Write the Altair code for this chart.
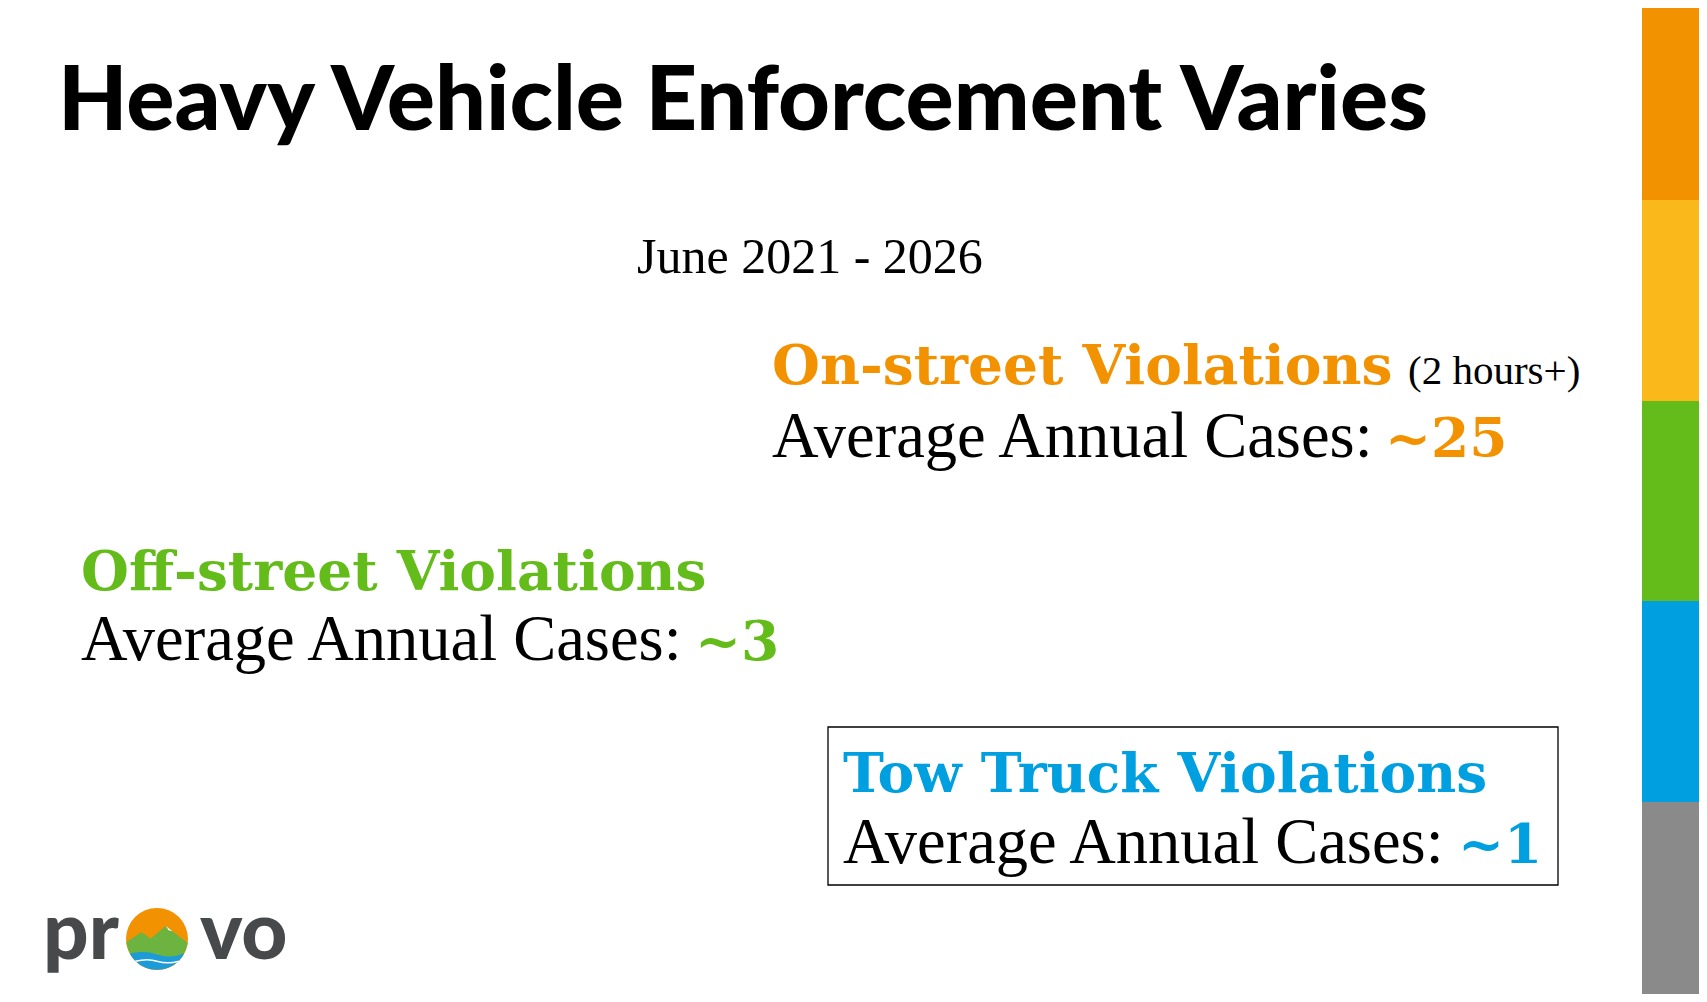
import altair as alt
import pandas as pd

# ---------------- content ----------------
TITLE = "Heavy Vehicle Enforcement Varies"
SUBTITLE = "June 2021 - 2026"
CATEGORIES = ["On-street Violations", "Off-street Violations", "Tow Truck Violations"]
NOTE = "(2 hours+)"
CASE_LABEL = "Average Annual Cases:"
CASE_VALUES = ["~25", "~3", "~1"]
LOGO_TEXT = ["pr", "vo"]

# ---------------- styles ----------------
CAT_COLORS = ["#F39200", "#63BC1A", "#009FE0"]
BAND_NAMES = ["b1", "b2", "b3", "b4", "b5"]
BAND_COLORS = ["#F39200", "#FBB81B", "#63BC1A", "#009FE0", "#8A8A8A"]
LOGO_GRAY = "#48494B"
SERIF = "Liberation Serif"
SERIF_BOLD = "DejaVu Serif"

# ---------------- layout (page pixels) ----------------
HEAD_X = [772, 81, 843]
HEAD_Y = [384, 590, 792]
LINE_Y = [457, 660, 863]
VALUE_X = [1385, 695, 1458]
BAND_EDGES = [0, 200, 401, 601, 802, 1002]
BAND_X = [1642, 1707]
TITLE_POS = (58, 130)
SUB_POS = (637, 273)
NOTE_POS = (1408, 384)
BOX = (828, 1558, 727, 885)
LOGO_TEXT_X = [43, 200]
LOGO_BASE = 959
LOGO_CENTER = (157, 939)

W, H = 1691, 986
XS = alt.Scale(domain=[8, 8 + W], nice=False, zero=False, clamp=True)
YS = alt.Scale(domain=[8, 8 + H], reverse=True, nice=False, zero=False, clamp=True)


def xe(f="x"):
    return alt.X(f"{f}:Q", scale=XS, axis=None)


def ye(f="y"):
    return alt.Y(f"{f}:Q", scale=YS, axis=None)


# colour bands on the right
bands_df = pd.DataFrame({
    "band": BAND_NAMES,
    "x": [BAND_X[0]] * 5,
    "x2": [BAND_X[1]] * 5,
    "y": BAND_EDGES[:-1],
    "y2": BAND_EDGES[1:],
})
bands = alt.Chart(bands_df).mark_rect(clip=True).encode(
    x=xe("x"), x2="x2", y=ye("y"), y2="y2",
    color=alt.Color("band:N", scale=alt.Scale(domain=BAND_NAMES, range=BAND_COLORS), legend=None),
)

# title
title_df = pd.DataFrame({"t": [TITLE], "x": [TITLE_POS[0]], "y": [TITLE_POS[1]]})
title = alt.Chart(title_df).mark_text(
    align="left", baseline="alphabetic", font="Lato", fontWeight=900, fontSize=90, color="#000000"
).encode(x=xe(), y=ye(), text="t:N")

# subtitle
sub_df = pd.DataFrame({"t": [SUBTITLE], "x": [SUB_POS[0]], "y": [SUB_POS[1]]})
sub = alt.Chart(sub_df).mark_text(
    align="left", baseline="alphabetic", font=SERIF, fontSize=50, color="#000000"
).encode(x=xe(), y=ye(), text="t:N")

cat_color = alt.Color("cat:N", scale=alt.Scale(domain=CATEGORIES, range=CAT_COLORS), legend=None)

# headings
head_df = pd.DataFrame({"cat": CATEGORIES, "x": HEAD_X, "y": HEAD_Y})
heads = alt.Chart(head_df).mark_text(
    align="left", baseline="alphabetic", font=SERIF_BOLD, fontWeight="bold", fontSize=55
).encode(x=xe(), y=ye(), text="cat:N", color=cat_color)

# note
note_df = pd.DataFrame({"t": [NOTE], "x": [NOTE_POS[0]], "y": [NOTE_POS[1]]})
note = alt.Chart(note_df).mark_text(
    align="left", baseline="alphabetic", font=SERIF, fontSize=41, color="#000000"
).encode(x=xe(), y=ye(), text="t:N")

# case label lines
label_df = pd.DataFrame({"t": [CASE_LABEL] * 3, "x": HEAD_X, "y": LINE_Y})
labels = alt.Chart(label_df).mark_text(
    align="left", baseline="alphabetic", font=SERIF, fontSize=64.5, color="#000000"
).encode(x=xe(), y=ye(), text="t:N")

# values
val_df = pd.DataFrame({"cat": CATEGORIES, "v": CASE_VALUES, "x": VALUE_X, "y": LINE_Y})
vals = alt.Chart(val_df).mark_text(
    align="left", baseline="alphabetic", font=SERIF_BOLD, fontWeight="bold", fontSize=55
).encode(x=xe(), y=ye(), text="v:N", color=cat_color)

# box around tow truck block
box_df = pd.DataFrame({"x": [BOX[0]], "x2": [BOX[1]], "y": [BOX[2]], "y2": [BOX[3]]})
box = alt.Chart(box_df).mark_rect(
    fillOpacity=0, stroke="#000000", strokeWidth=1.3
).encode(x=xe("x"), x2="x2", y=ye("y"), y2="y2")

# logo
logo_txt_df = pd.DataFrame({"t": LOGO_TEXT, "x": LOGO_TEXT_X, "y": [LOGO_BASE] * 2})
logo_txt = alt.Chart(logo_txt_df).mark_text(
    align="left", baseline="alphabetic", font="Lato", fontWeight=900, fontSize=80, color=LOGO_GRAY
).encode(x=xe(), y=ye(), text="t:N")

lc_df = pd.DataFrame({"x": [LOGO_CENTER[0]], "y": [LOGO_CENTER[1]]})
SYM = 62 * 62
sun = alt.Chart(lc_df).mark_point(
    shape="circle", filled=True, size=SYM, color="#F39200", opacity=1
).encode(x=xe(), y=ye())
mountain = alt.Chart(lc_df).mark_point(
    shape="M -0.99 0.1 L -0.5 -0.22 L -0.2 -0.02 L 0.28 -0.42 L 0.72 -0.08 L 0.99 0.12 A 1 1 0 0 1 -0.99 0.1 Z",
    filled=True, size=SYM, color="#6CB33F", opacity=1
).encode(x=xe(), y=ye())
water = alt.Chart(lc_df).mark_point(
    shape="M -0.88 0.47 Q -0.4 0.36 0 0.5 Q 0.45 0.64 0.88 0.47 A 1 1 0 0 1 -0.88 0.47 Z",
    filled=True, size=SYM, color="#1B9BD7", opacity=1
).encode(x=xe(), y=ye())
wave = alt.Chart(lc_df).mark_point(
    shape="M -0.7 0.72 Q -0.3 0.62 0 0.72 Q 0.35 0.82 0.7 0.72",
    filled=False, size=SYM, color="#FFFFFF", strokeWidth=1.5, opacity=1
).encode(x=xe(), y=ye())
snow = alt.Chart(lc_df).mark_point(
    shape="M 0.28 -0.42 L 0.5 -0.25 L 0.38 -0.28 Z",
    filled=True, size=SYM, color="#FFFFFF", opacity=1
).encode(x=xe(), y=ye())

chart = alt.layer(
    bands, title, sub, heads, note, labels, vals, box,
    sun, mountain, water, wave, snow, logo_txt
).resolve_scale(
    color="independent"
).properties(
    width=W, height=H, padding=0, autosize=alt.AutoSizeParams(type="none"), background="#FFFFFF"
).configure_view(stroke=None)

chart.save("out.html", embed_options={"renderer": "svg", "actions": False})
